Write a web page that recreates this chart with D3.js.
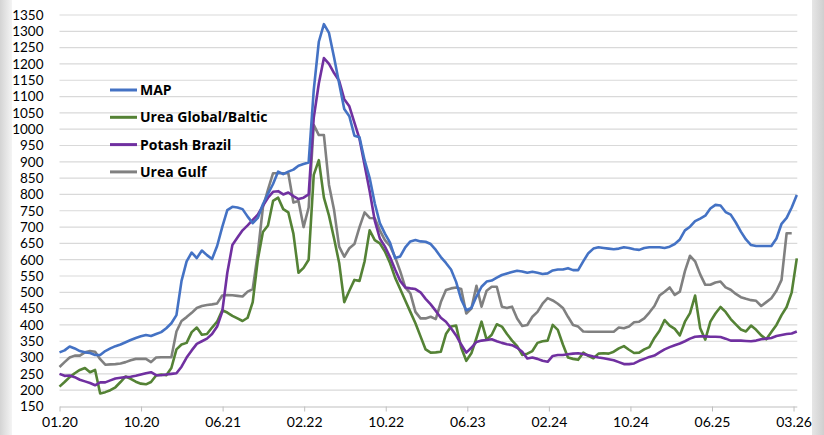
<!DOCTYPE html>
<html>
<head>
<meta charset="utf-8">
<script src="https://cdn.jsdelivr.net/npm/d3@7"></script>
<style>
  html, body { margin: 0; padding: 0; background: #fff; }
  svg { display: block; }
</style>
</head>
<body>
<div id="chart"></div>
<script>
// Prices, roughly every two weeks from 01.20 to 03.26 (USD/t)
const seriesNames = ["MAP", "Urea Global/Baltic", "Potash Brazil", "Urea Gulf"];

const mapPrices = [
  316, 322, 334, 328, 320, 316, 314, 308, 308, 320, 328, 335, 340, 347, 354, 360, 365, 369, 366, 372,
  378, 390, 405, 430, 535, 595, 622, 605, 628, 614, 602, 642, 700, 752, 762, 760, 755, 732, 712, 728,
  770, 802, 832, 870, 862, 870, 876, 888, 893, 898, 1120, 1268, 1322, 1295, 1220, 1140, 1062, 1040, 980, 975,
  905, 850, 773, 712, 680, 652, 605, 610, 638, 656, 660, 656, 655, 648, 630, 608, 590, 570, 532, 478,
  445, 452, 487, 517, 533, 536, 545, 553, 558, 562, 566, 564, 560, 563, 560, 556, 558, 567, 570, 570,
  574, 568, 568, 595, 620, 634, 638, 636, 634, 632, 634, 638, 636, 632, 630, 636, 638, 638, 638, 636,
  640, 648, 662, 690, 701, 718, 726, 735, 757, 768, 766, 746, 738, 714, 686, 662, 645, 642, 642, 642,
  642, 665, 710, 728, 760, 798
];

const ureaGlobal = [
  211, 225, 240, 252, 262, 268, 255, 262, 190, 194, 200, 209, 225, 242, 235, 226, 220, 218, 225, 245,
  248, 246, 268, 325, 340, 345, 378, 392, 370, 372, 392, 410, 445, 438, 428, 420, 412, 422, 470, 600,
  685, 705, 780, 790, 755, 745, 680, 560, 575, 600, 860, 905, 790, 735, 665, 590, 470, 505, 538, 535,
  595, 690, 660, 650, 625, 590, 545, 510, 475, 440, 405, 365, 325, 315, 316, 318, 372, 395, 398, 330,
  290, 313, 360, 410, 355, 370, 402, 395, 372, 352, 335, 308, 312, 320, 345, 350, 352, 400, 385, 340,
  300, 296, 293, 315, 305, 298, 312, 313, 312, 318, 328, 335, 324, 314, 315, 325, 332, 360, 382, 415,
  398, 388, 368, 410, 436, 490, 390, 355, 410, 435, 455, 440, 418, 402, 386, 380, 398, 385, 368, 356,
  378, 400, 430, 455, 500, 604
];

const potashBrazil = [
  250, 244, 245, 240, 232, 227, 222, 215, 224, 224, 230, 236, 238, 240, 241, 244, 248, 252, 255, 246,
  246, 248, 250, 252, 272, 300, 322, 342, 350, 358, 372, 395, 440, 560, 645, 668, 690, 705, 722, 738,
  765, 790, 808, 810, 800, 806, 795, 786, 790, 800, 1035, 1140, 1218, 1200, 1172, 1148, 1092, 1070, 1020, 970,
  890, 810, 720, 665, 640, 608, 570, 535, 515, 512, 510, 500, 480, 463, 443, 422, 410, 390, 368, 340,
  315, 330, 348, 352, 354, 356, 350, 345, 341, 338, 330, 318, 297, 300, 296, 290, 287, 305, 308, 308,
  310, 312, 313, 311, 307, 303, 300, 298, 295, 292, 286, 280, 280, 282, 290, 296, 302, 306, 316, 325,
  332, 338, 343, 350, 358, 364, 365, 365, 364, 364, 363, 358, 352, 352, 352, 351, 350, 352, 356, 358,
  360, 366, 369, 372, 374, 380
];

const ureaGulf = [
  271, 286, 300, 306, 306, 316, 320, 318, 295, 278, 279, 280, 282, 286, 292, 296, 296, 296, 286, 300,
  301, 301, 301, 380, 412, 424, 437, 452, 458, 461, 463, 466, 490, 492, 491, 489, 487, 502, 510, 620,
  760, 815, 865, 865, 865, 865, 775, 780, 700, 760, 1013, 982, 982, 829, 752, 640, 609, 635, 648, 700,
  745, 728, 727, 690, 660, 642, 608, 565, 515, 497, 440, 420, 420, 425, 418, 470, 507, 512, 515, 510,
  435, 450, 520, 456, 505, 517, 517, 456, 452, 456, 420, 397, 400, 425, 440, 465, 482, 475, 465, 452,
  425, 400, 395, 380, 379, 379, 379, 379, 379, 379, 392, 390, 395, 408, 410, 420, 438, 458, 490, 502,
  515, 492, 502, 565, 612, 595, 555, 523, 523, 530, 533, 515, 508, 495, 485, 480, 476, 474, 458, 470,
  482, 505, 538, 681, 681, null
];

const tickLabels = ["01.20", "10.20", "06.21", "02.22", "10.22", "06.23", "02.24", "10.24", "06.25", "03.26"];
const tickStep = 16.04; // data points between two labelled ticks
const yTicks = d3.range(150, 1351, 50);

const colors = ["#4472C4", "#548235", "#7030A0", "#808080"];
const allSeries = [mapPrices, ureaGlobal, potashBrazil, ureaGulf];

// Layout
const width = 824;
const height = 435;
const margin = { left: 59.5, right: 796.8, top: 15, bottom: 406.5 };
const font = "Lato, 'Open Sans', sans-serif";
const legendFont = "'Open Sans', sans-serif";

const x = d3.scaleLinear().domain([0, mapPrices.length - 1]).range([margin.left, margin.right]);
const y = d3.scaleLinear().domain([150, 1350]).range([margin.bottom, margin.top]);

const svg = d3.select("#chart")
  .append("svg")
  .attr("width", width)
  .attr("height", height)
  .attr("font-family", font);

// grey edges of the slide behind the chart
const defs = svg.append("defs");
const gl = defs.append("linearGradient").attr("id", "edgeL").attr("x1", 0).attr("x2", 1);
gl.append("stop").attr("offset", 0).attr("stop-color", "#d4d4d4");
gl.append("stop").attr("offset", 1).attr("stop-color", "#f4f4f4");
const gr = defs.append("linearGradient").attr("id", "edgeR").attr("x1", 0).attr("x2", 1);
gr.append("stop").attr("offset", 0).attr("stop-color", "#e6e6e6");
gr.append("stop").attr("offset", 1).attr("stop-color", "#cfcfcf");
svg.append("rect").attr("x", 0).attr("y", 0).attr("width", 12).attr("height", height).attr("fill", "url(#edgeL)");
svg.append("rect").attr("x", 812).attr("y", 0).attr("width", 12).attr("height", height).attr("fill", "url(#edgeR)");

// Gridlines
svg.append("g")
  .selectAll("line")
  .data(yTicks.filter(d => d > 150))
  .join("line")
  .attr("x1", margin.left)
  .attr("x2", margin.right + 0.5)
  .attr("y1", d => y(d))
  .attr("y2", d => y(d))
  .attr("stroke", "#d9d9d9")
  .attr("stroke-width", 1.2);

// Y axis labels
const yAxis = svg.append("g")
  .attr("transform", `translate(${margin.left},0)`)
  .call(d3.axisLeft(y).tickValues(yTicks).tickFormat(d3.format("d")).tickSize(0).tickPadding(16));
yAxis.select(".domain").remove();
yAxis.selectAll("text")
  .attr("font-family", font)
  .attr("font-size", 13.5)
  .attr("fill", "#000");

// X axis
const xAxis = svg.append("g")
  .attr("transform", `translate(0,${margin.bottom})`)
  .call(d3.axisBottom(x)
    .tickValues(tickLabels.map((d, i) => i * tickStep))
    .tickFormat((d, i) => tickLabels[i])
    .tickSize(5)
    .tickSizeOuter(0)
    .tickPadding(6));
xAxis.select(".domain").attr("stroke", "#bfbfbf").attr("stroke-width", 1.2);
xAxis.selectAll(".tick line").attr("stroke", "#bfbfbf");
xAxis.selectAll("text")
  .attr("font-family", font)
  .attr("font-size", 14)
  .attr("fill", "#000");

// Lines
const line = d3.line()
  .defined(d => d != null)
  .x((d, i) => x(i))
  .y(d => y(d));

// draw order: grey, green, purple, blue on top
[3, 1, 2, 0].forEach(k => {
  svg.append("path")
    .datum(allSeries[k])
    .attr("fill", "none")
    .attr("stroke", colors[k])
    .attr("stroke-width", 2.6)
    .attr("stroke-linejoin", "round")
    .attr("d", line);
});

// Legend
const legend = svg.append("g").attr("transform", "translate(110,90)");
const item = legend.selectAll("g")
  .data(seriesNames)
  .join("g")
  .attr("transform", (d, i) => `translate(0,${i * 27.3})`);
item.append("line")
  .attr("x1", 0).attr("x2", 27)
  .attr("stroke", (d, i) => colors[i])
  .attr("stroke-width", 3);
item.append("text")
  .attr("x", 30)
  .attr("dy", "0.35em")
  .attr("font-family", legendFont)
  .attr("font-size", 14)
  .attr("font-weight", 700)
  .attr("fill", "#000")
  .text(d => d);
</script>
</body>
</html>
